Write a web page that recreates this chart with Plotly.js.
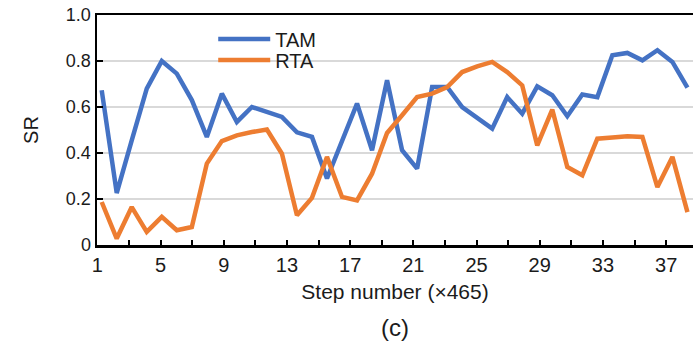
<!DOCTYPE html>
<html>
<head>
<meta charset="utf-8">
<script src="https://cdn.plot.ly/plotly-3.0.1.min.js"></script>
<style>
  html, body { margin: 0; padding: 0; background: #fff; }
  #chart { width: 693px; height: 344px; }
</style>
</head>
<body>
<div id="chart"></div>
<script>
// Sample index of each plotted point (40 samples)
const steps = [1,2,3,4,5,6,7,8,9,10,11,12,13,14,15,16,17,18,19,20,
               21,22,23,24,25,26,27,28,29,30,31,32,33,34,35,36,37,38,39,40];

// Success rate, TAM
const tam = [0.673,0.226,0.455,0.680,0.800,0.745,0.630,0.470,0.658,0.535,
             0.600,0.578,0.557,0.490,0.470,0.289,0.452,0.615,0.412,0.716,
             0.412,0.332,0.687,0.687,0.600,0.550,0.506,0.643,0.571,0.690,
             0.651,0.560,0.654,0.643,0.825,0.835,0.803,0.847,0.796,0.684];

// Success rate, RTA
const rta = [0.187,0.028,0.165,0.057,0.122,0.064,0.078,0.354,0.452,0.477,
             0.491,0.502,0.397,0.129,0.205,0.383,0.209,0.194,0.310,0.487,
             0.564,0.643,0.658,0.687,0.752,0.777,0.796,0.752,0.694,0.433,
             0.589,0.339,0.303,0.462,0.467,0.473,0.470,0.252,0.383,0.143];

// Axis tick labels (step-number axis)
const xTickVals = [1,5,9,13,17,21,25,29,33,37];
const yTickVals = [0,0.2,0.4,0.6,0.8,1.0];
const yTickText = ["0","0.2","0.4","0.6","0.8","1.0"];

const FONT = "Liberation Sans, Arial, sans-serif";
const TXT = "#1b1b1b";

const traces = [
  { x: steps, y: tam, name: "TAM", type: "scatter", mode: "lines", legend: "legend",
    line: { color: "#4472C4", width: 4.5 }, xaxis: "x", yaxis: "y" },
  { x: steps, y: rta, name: "RTA", type: "scatter", mode: "lines", legend: "legend2",
    line: { color: "#ED7D31", width: 4.5 }, xaxis: "x", yaxis: "y" },
  // carrier for the labelled step-number axis (no visible marks)
  { x: xTickVals, y: xTickVals.map(() => null), type: "scatter", mode: "lines",
    showlegend: false, hoverinfo: "skip", xaxis: "x2", yaxis: "y" }
];

const legendBase = {
  xanchor: "left", yanchor: "top",
  bgcolor: "rgba(0,0,0,0)", borderwidth: 0,
  font: { family: FONT, size: 20, color: TXT },
  itemwidth: 52
};

const layout = {
  width: 693, height: 344,
  margin: { l: 97, r: 0, t: 15, b: 99 },
  paper_bgcolor: "#fff", plot_bgcolor: "#fff",
  font: { family: FONT, color: TXT, size: 17 },
  showlegend: true,
  legend: Object.assign({ x: 0.195, y: 0.980 }, legendBase),
  legend2: Object.assign({ x: 0.195, y: 0.889 }, legendBase),
  xaxis: {
    range: [0.687, 40.37],
    showticklabels: false, ticks: "", showgrid: false, zeroline: false,
    showline: true, linecolor: "#000", linewidth: 2.5, mirror: true
  },
  xaxis2: {
    overlaying: "x", anchor: "y", side: "bottom",
    range: [0.98, 38.7],
    tickmode: "array", tickvals: xTickVals, ticktext: xTickVals.map(String),
    ticks: "inside", ticklen: 5, tickwidth: 2, tickcolor: "#000",
    minor: { tickmode: "linear", tick0: 1, dtick: 2, ticks: "inside", ticklen: 5, tickwidth: 2, tickcolor: "#000", showgrid: false },
    showgrid: false, zeroline: false, showline: false,
    ticklabelstandoff: 6,
    tickfont: { family: FONT, size: 20, color: TXT },
    title: { text: "Step number (×465)", font: { family: FONT, size: 21, color: TXT }, standoff: 9 }
  },
  yaxis: {
    range: [0, 1],
    tickmode: "array", tickvals: yTickVals, ticktext: yTickText,
    ticks: "inside", ticklen: 6, tickwidth: 2, tickcolor: "#000",
    showgrid: true, gridcolor: "#d9d9d9", gridwidth: 2,
    zeroline: false, showline: true, linecolor: "#000", linewidth: 2.5,
    tickfont: { family: FONT, size: 18, color: TXT },
    title: { text: "SR", font: { family: FONT, size: 20, color: TXT }, standoff: 22 }
  },
  annotations: [
    { text: "(c)", xref: "paper", yref: "paper", x: 0.5, y: -0.36,
      xanchor: "center", yanchor: "middle", showarrow: false,
      font: { family: FONT, size: 24, color: TXT } }
  ]
};

Plotly.newPlot("chart", traces, layout, { displayModeBar: false, staticPlot: true });
</script>
</body>
</html>
